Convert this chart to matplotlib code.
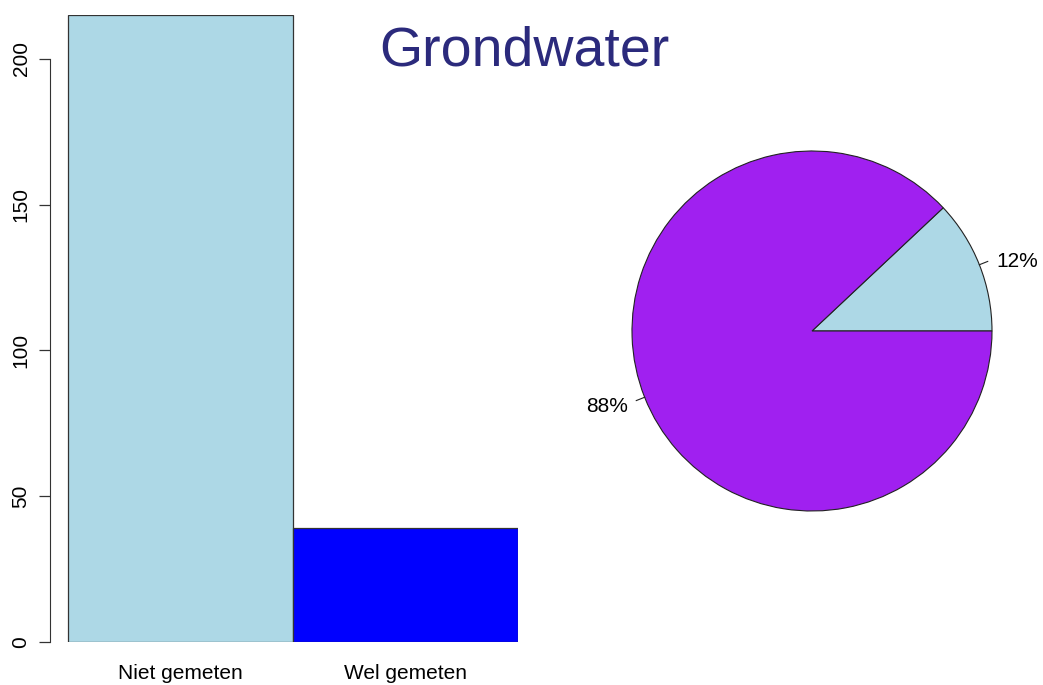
import matplotlib as mpl
mpl.use('Agg')
import matplotlib.pyplot as plt
import matplotlib.transforms as mtransforms
import numpy as np

plt.rcParams['font.family'] = ['Liberation Sans', 'DejaVu Sans']

# data
bar_labels = ["Niet gemeten", "Wel gemeten"]
bar_values = [215, 39]
bar_colors = ["#ADD8E6", "#0000FF"]

pie_values = [12, 88]
pie_labels = ["12%", "88%"]
pie_colors = ["#ADD8E6", "#A020F0"]

title = "Grondwater"

W, H = 1043, 685
fig = plt.figure(figsize=(W / 100, H / 100), dpi=100)

def px_axes(x0, y0, x1, y1):
    # pixel box (top-left origin) -> figure axes
    return fig.add_axes([x0 / W, 1 - y1 / H, (x1 - x0) / W, (y1 - y0) / H])

# bar chart
ax = px_axes(50, 15, 518, 642)
xs = [0.5 + i for i in range(len(bar_values))]
ax.bar(xs, bar_values, width=1.0, color=bar_colors, edgecolor="#333333", linewidth=0.9)
ax.set_xlim(-0.08, 2.0)
ax.set_ylim(0, 215)
for s in ["top", "right", "bottom"]:
    ax.spines[s].set_visible(False)
ax.spines["left"].set_bounds(0, 200)
ax.spines["left"].set_color("#333333")
ax.set_yticks([0, 50, 100, 150, 200])
ax.tick_params(axis="y", length=8, width=0.9, color="#333333", pad=6, labelsize=15)
for lab in ax.get_yticklabels():
    lab.set_rotation(90)
    lab.set_va("center")
ax.set_xticks(xs)
ax.set_xticklabels(bar_labels, fontsize=15)
ax.tick_params(axis="x", length=0, pad=16)

# pie chart
R = 180
cx, cy = 812, 331
half = 230
pax = px_axes(cx - half, cy - half, cx + half, cy + half)
pax.pie(pie_values, colors=pie_colors, startangle=0, counterclock=True,
        radius=1.0, wedgeprops=dict(edgecolor="#222222", linewidth=0.8))
shift = mtransforms.ScaledTranslation(0, -3 / 100, fig.dpi_scale_trans)
tot = sum(pie_values)
start = 0.0
for v, lab in zip(pie_values, pie_labels):
    mid = np.deg2rad(360.0 * (start + v / 2) / tot)
    c, s = np.cos(mid), np.sin(mid)
    pax.plot([c, 1.05 * c], [s, 1.05 * s], color="#222222", lw=0.8)
    pax.text(1.1 * c, 1.1 * s, lab, ha="left" if c > 0 else "right", va="center",
             fontsize=15, clip_on=False, transform=pax.transData + shift)
    start += v
lim = half / R
pax.set_xlim(-lim, lim)
pax.set_ylim(-lim, lim)
pax.set_aspect("equal")
pax.axis("off")

fig.text(524 / W, 1 - 52 / H, title, fontsize=40, color="#2B2A7C", ha="center", va="center")

plt.savefig("out.png", dpi=100)
